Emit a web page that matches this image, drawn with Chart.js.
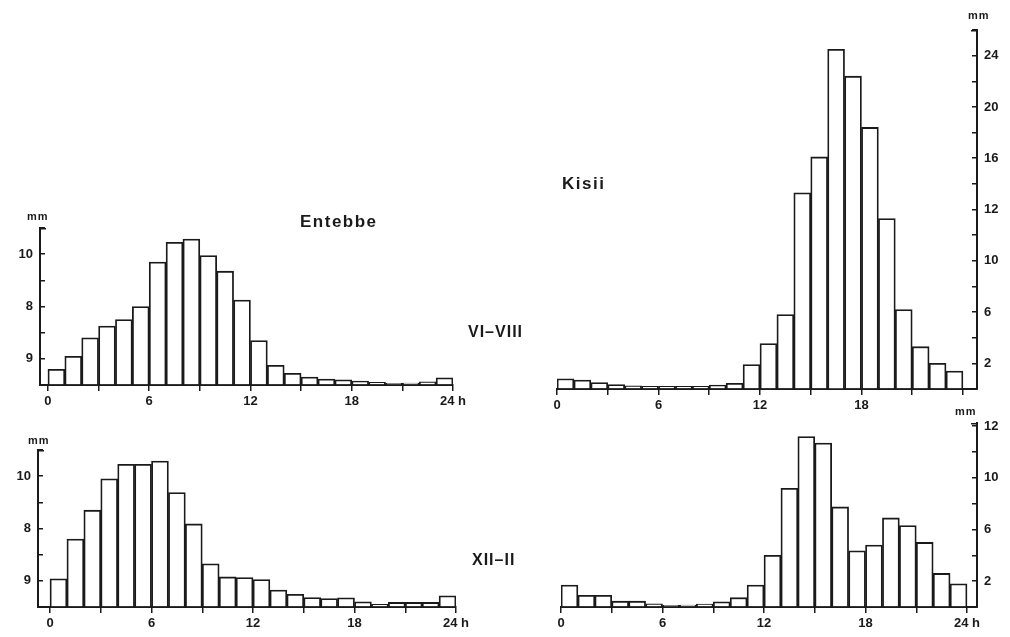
<!DOCTYPE html>
<html>
<head>
<meta charset="utf-8">
<script src="https://cdn.jsdelivr.net/npm/chart.js@4"></script>
<style>
  body { margin: 0; background: #fff; }
  #wrap { position: relative; width: 1010px; height: 637px; overflow: hidden; background: #fff; }
  #wrap canvas { position: absolute; left: 0; top: 0; }
  .lbl { position: absolute; font-family: "Liberation Sans", Arial, sans-serif; font-weight: bold; color: #1a1a1a; white-space: nowrap; line-height: 1; }
  .mm { font-size: 11px; letter-spacing: 1px; }
  .name { font-size: 17px; letter-spacing: 1.5px; }
  .season { font-size: 16px; letter-spacing: 1px; }
</style>
</head>
<body>
<div id="wrap">
  <canvas id="tl" width="1010" height="637"></canvas>
  <canvas id="tr" width="1010" height="637"></canvas>
  <canvas id="bl" width="1010" height="637"></canvas>
  <canvas id="br" width="1010" height="637"></canvas>

  <div class="lbl mm" style="left:27px;top:211px">mm</div>
  <div class="lbl mm" style="left:28px;top:435px">mm</div>
  <div class="lbl mm" style="left:968px;top:10px">mm</div>
  <div class="lbl mm" style="left:955px;top:406px">mm</div>
  <div class="lbl name" style="left:300px;top:213px">Entebbe</div>
  <div class="lbl name" style="left:562px;top:175px">Kisii</div>
  <div class="lbl season" style="left:468px;top:324px">VI–VIII</div>
  <div class="lbl season" style="left:472px;top:552px">XII–II</div>
</div>
<script>
// hour bins (start of each hour)
const hourStarts = [0,1,2,3,4,5,6,7,8,9,10,11,12,13,14,15,16,17,18,19,20,21,22,23];

// mean rainfall per hour (axis units)
const entebbeJunAug = [1.2,2.2,3.6,4.5,5.0,6.0,9.4,10.9,11.15,9.9,8.7,6.5,3.4,1.5,0.9,0.6,0.45,0.4,0.3,0.2,0.13,0.15,0.25,0.55];
const kisiiJunAug = [0.8,0.7,0.5,0.35,0.25,0.2,0.2,0.2,0.2,0.3,0.45,1.9,3.55,5.8,15.3,18.1,26.5,24.4,20.4,13.3,6.2,3.3,2.0,1.4];
const entebbeDecFeb = [2.15,5.2,7.4,9.8,10.9,10.9,11.15,8.75,6.35,3.3,2.3,2.25,2.1,1.3,0.97,0.72,0.65,0.7,0.4,0.2,0.35,0.35,0.35,0.85];
const kisiiDecFeb = [1.7,0.9,0.9,0.45,0.45,0.25,0.13,0.15,0.22,0.4,0.72,1.7,4.0,9.2,13.2,12.7,7.75,4.35,4.8,6.9,6.3,5.0,2.6,1.8];

// tick labels as printed
const hourTickMarks = [0,3,6,9,12,15,18,21,24];
const hourTickValues = [0,6,12,18,24];
const hourTickText = ['0','6','12','18','24 h'];
const hourTickTextNo24 = ['0','6','12','18',''];
const entebbeTickValues = [2,6,10];
const entebbeTickText = ['9','8','10'];
const kisiiJunAugTickValues = [2,6,10,14,18,22,26];
const kisiiJunAugTickText = ['2','6','10','12','16','20','24'];
const kisiiDecFebTickValues = [2,6,10,14];
const kisiiDecFebTickText = ['2','6','10','12'];

const ink = '#1a1a1a';
const font = { family: '"Liberation Sans", Arial, sans-serif', size: 13, weight: 'bold' };

const topHook = {
  id: 'topHook',
  afterDraw(chart, args, opts) {
    const ys = chart.scales.y;
    const x = opts.side === 'right' ? chart.chartArea.right : chart.chartArea.left;
    const dir = opts.side === 'right' ? -1 : 1;
    const ctx = chart.ctx;
    ctx.save();
    ctx.strokeStyle = ink;
    ctx.lineWidth = 1.5;
    ctx.beginPath();
    ctx.moveTo(x, ys.top + 0.75);
    ctx.lineTo(x + dir * 6, ys.top + 0.75);
    ctx.stroke();
    ctx.restore();
  }
};

function panel(id, values, area, side, xMin, xMax, yMax, yVals, yText, xText) {
  const yW = 34, xH = 30;
  const padding = {
    top: area.top,
    bottom: 637 - area.bottom - xH,
    left: side === 'left' ? area.left - yW : area.left,
    right: side === 'left' ? 1010 - area.right : 1010 - area.right - yW
  };
  new Chart(document.getElementById(id), {
    type: 'bar',
    data: {
      datasets: [{
        data: hourStarts.map((h, i) => ({ x: h + 0.5, y: values[i] })),
        backgroundColor: '#fff',
        borderColor: ink,
        borderWidth: 1.8,
        barPercentage: 1,
        categoryPercentage: 1
      }]
    },
    options: {
      responsive: false,
      animation: false,
      layout: { padding },
      plugins: { legend: { display: false }, tooltip: { enabled: false }, topHook: { side } },
      scales: {
        x: {
          type: 'linear',
          offset: false,
          min: xMin, max: xMax,
          afterBuildTicks: s => { s.ticks = hourTickMarks.map(v => ({ value: v })); },
          afterFit: s => { s.height = xH; },
          border: { color: ink, width: 2 },
          grid: { offset: false, drawOnChartArea: false, drawTicks: true, tickLength: 6, color: ink, lineWidth: 1.5 },
          ticks: {
            autoSkip: false, maxRotation: 0, padding: 3, color: ink, font,
            callback: v => { const i = hourTickValues.indexOf(v); return i < 0 ? '' : xText[i]; }
          }
        },
        y: {
          position: side,
          min: 0, max: yMax,
          afterBuildTicks: s => {
            const t = [];
            for (let v = 0; v <= yMax + 0.001; v += 2) t.push({ value: v });
            s.ticks = t;
          },
          afterFit: s => { s.width = yW; },
          border: { color: ink, width: 2 },
          // negative length: tick marks point into the plot, as in the print
          grid: { drawOnChartArea: false, drawTicks: true, tickLength: -5, color: ink, lineWidth: 1.5 },
          ticks: {
            autoSkip: false, padding: 12, color: ink, font,
            callback: v => { const i = yVals.indexOf(v); return i < 0 ? '' : yText[i]; }
          }
        }
      }
    },
    plugins: [topHook]
  });
}

panel('tl', entebbeJunAug, { left: 40, right: 453, top: 228, bottom: 385 }, 'left',
  -0.47, 24, 12, entebbeTickValues, entebbeTickText, hourTickText);
panel('tr', kisiiJunAug, { left: 557, right: 977, top: 30, bottom: 389 }, 'right',
  0, 24.83, 28, kisiiJunAugTickValues, kisiiJunAugTickText, hourTickTextNo24);
panel('bl', entebbeDecFeb, { left: 38, right: 456, top: 450, bottom: 607 }, 'left',
  -0.71, 24, 12, entebbeTickValues, entebbeTickText, hourTickText);
panel('br', kisiiDecFeb, { left: 561, right: 977, top: 423, bottom: 607 }, 'right',
  0, 24.59, 14.25, kisiiDecFebTickValues, kisiiDecFebTickText, hourTickText);
</script>
</body>
</html>
